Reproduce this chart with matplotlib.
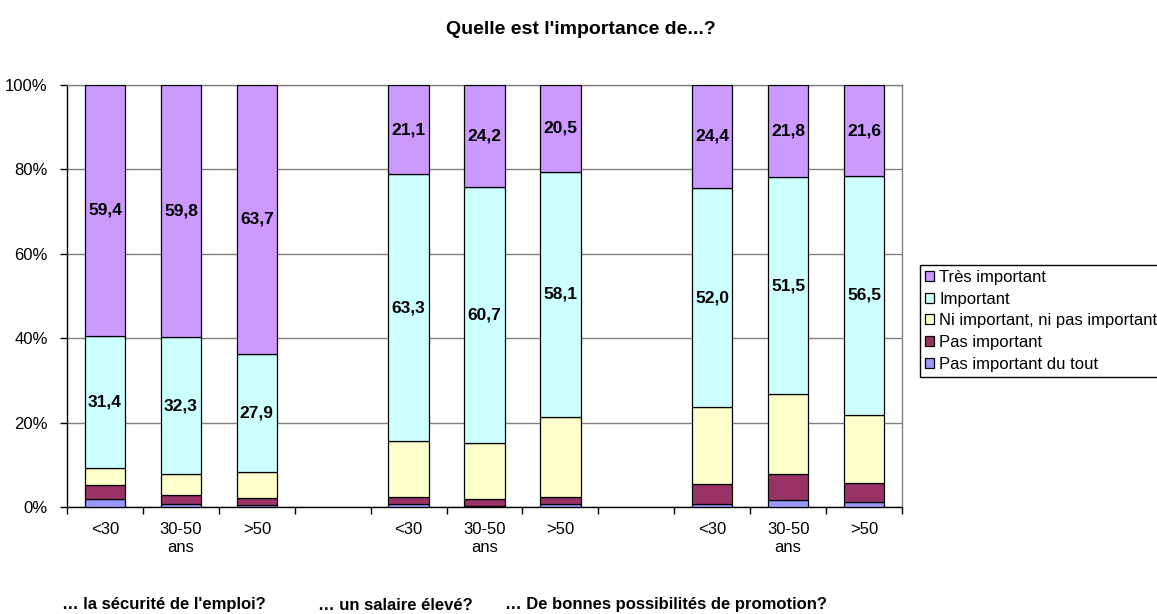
import numpy as np
import matplotlib
matplotlib.use("Agg")
import matplotlib.pyplot as plt
from matplotlib.patches import Patch

plt.rcParams['font.family'] = ['Liberation Sans', 'DejaVu Sans']

# categories ("" = empty slot between groups)
age_labels = ["<30", "30-50\nans", ">50", "", "<30", "30-50\nans", ">50", "", "<30", "30-50\nans", ">50"]
group_titles = ["… la sécurité de l'emploi?", "… un salaire élevé?", "… De bonnes possibilités de promotion?"]

series_names = ["Pas important du tout", "Pas important", "Ni important, ni pas important",
                "Important", "Très important"]
series_colors = ["#9999FF", "#993366", "#FFFFCC", "#CCFFFF", "#CC99FF"]

# values per bar (%), empty slots are 0
pas_du_tout = [1.8, 0.8, 0.4, 0, 0.7, 0.2, 0.6, 0, 0.8, 1.6, 1.2]
pas_important = [3.4, 2.1, 1.7, 0, 1.7, 1.8, 1.8, 0, 4.7, 6.3, 4.6]
ni_ni = [4.0, 5.0, 6.3, 0, 13.2, 13.1, 19.0, 0, 18.1, 18.8, 16.1]
important = [31.4, 32.3, 27.9, 0, 63.3, 60.7, 58.1, 0, 52.0, 51.5, 56.5]
tres_important = [59.4, 59.8, 63.7, 0, 21.1, 24.2, 20.5, 0, 24.4, 21.8, 21.6]

all_series = [pas_du_tout, pas_important, ni_ni, important, tres_important]
labelled = [False, False, False, True, True]

fig = plt.figure(figsize=(11.57, 6.14), dpi=100)
ax = fig.add_axes([67 / 1157, 1 - 507 / 614, 835 / 1157, 422 / 614])

x = np.arange(len(age_labels))
has_bar = np.array([sum(s[i] for s in all_series) > 0 for i in range(len(x))])
bottom = np.zeros(len(x))
for vals, color, show in zip(all_series, series_colors, labelled):
    vals = np.array(vals, dtype=float)
    ax.bar(x[has_bar], vals[has_bar], bottom=bottom[has_bar], width=0.53,
           color=color, edgecolor="black", linewidth=0.9, zorder=3)
    if show:
        for xi, v, b in zip(x[has_bar], vals[has_bar], bottom[has_bar]):
            ax.text(xi, b + v / 2, f"{v:.1f}".replace(".", ","), ha="center", va="center",
                    fontsize=12.5, fontweight="bold", zorder=4)
    bottom += vals

ax.set_xlim(-0.5, len(x) - 0.5)
ax.set_ylim(0, 100)
ax.set_yticks([0, 20, 40, 60, 80, 100])
ax.set_yticklabels([f"{v}%" for v in [0, 20, 40, 60, 80, 100]], fontsize=12)
ax.yaxis.grid(True, color="#808080", linewidth=1, zorder=0)

# category boundary ticks, labels at centres
ax.set_xticks(np.arange(len(x) + 1) - 0.5)
ax.set_xticklabels([])
ax.set_xticks(x, minor=True)
ax.set_xticklabels(age_labels, minor=True, fontsize=12, linespacing=1.2)
ax.tick_params(axis="x", which="minor", length=0, pad=11)
ax.tick_params(axis="x", which="major", length=5, width=1, direction="out")
ax.tick_params(axis="y", length=5, width=1, direction="out", pad=9)

for side in ["left", "bottom"]:
    ax.spines[side].set_color("black")
    ax.spines[side].set_linewidth(1)
for side in ["top", "right"]:
    ax.spines[side].set_color("#808080")
    ax.spines[side].set_linewidth(1)

fig.text(581 / 1157, 1 - 29 / 614, "Quelle est l'importance de...?", ha="center", va="center",
         fontsize=14, fontweight="bold")

group_x = [62, 318, 505]
for gx, title in zip(group_x, group_titles):
    fig.text(gx / 1157, 1 - 605 / 614, title, ha="left", va="center",
             fontsize=12, fontweight="bold")

handles = [Patch(facecolor=c, edgecolor="black", linewidth=0.9) for c in series_colors][::-1]
leg = fig.legend(handles, series_names[::-1], loc="upper left",
                 bbox_to_anchor=(920 / 1157, 1 - 265 / 614), fontsize=12,
                 frameon=True, fancybox=False, edgecolor="black", framealpha=1,
                 handlelength=0.55, handleheight=0.55, handletextpad=0.3,
                 labelspacing=0.4, borderpad=0.3, borderaxespad=0)
leg.get_frame().set_linewidth(1)

fig.savefig("out.png", dpi=100)
